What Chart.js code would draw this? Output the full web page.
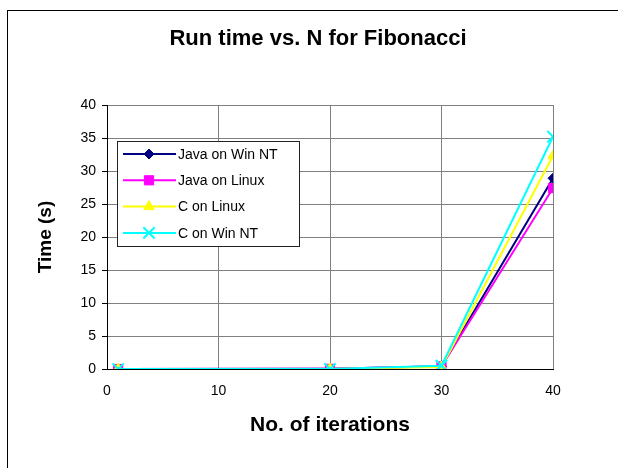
<!DOCTYPE html>
<html>
<head>
<meta charset="utf-8">
<script src="https://cdn.jsdelivr.net/npm/chart.js@4/dist/chart.umd.min.js"></script>
<style>
  html, body { margin: 0; padding: 0; background: #fff; overflow: hidden; }
  #frame {
    position: absolute; left: 7px; top: 10px; width: 640px; height: 480px;
    border-left: 1px solid #000; border-top: 1px solid #000; background: #fff;
  }
  #chartTitle {
    position: absolute; left: 0; top: 15px; width: 620px; text-align: center;
    font: bold 22px Arial, "Liberation Sans", sans-serif; line-height: 24px; color: #000;
  }
  #runChart { position: absolute; left: 0; top: 0; }
</style>
</head>
<body>
<div id="frame">
  <canvas id="runChart" width="620" height="470"></canvas>
  <div id="chartTitle">Run time vs. N for Fibonacci</div>
</div>
<script>
// data
const iterations = [1, 20, 30, 40];
const javaWinNT = [0, 0.02, 0.4, 28.9];
const javaLinux = [0, 0.02, 0.4, 27.4];
const cLinux = [0, 0.01, 0.3, 32.3];
const cWinNT = [0, 0.01, 0.5, 35.2];
const seriesNames = ['Java on Win NT', 'Java on Linux', 'C on Linux', 'C on Win NT'];
const xTicks = [0, 10, 20, 30, 40];
const yTicks = [0, 5, 10, 15, 20, 25, 30, 35, 40];

const FONT = 'Arial, "Liberation Sans", sans-serif';

function points(values) {
  return iterations.map((x, i) => ({ x: x, y: values[i] }));
}

function series(label, values, color, style, radius, order) {
  return {
    label: label,
    data: points(values),
    borderColor: color,
    backgroundColor: color,
    pointBackgroundColor: color,
    pointBorderColor: color,
    pointStyle: style,
    pointRadius: radius,
    pointBorderWidth: style === 'crossRot' ? 2 : 1,
    borderWidth: 2,
    tension: 0,
    order: order
  };
}

// legend drawn inside the plot, like the original
const boxLegend = {
  id: 'boxLegend',
  afterDraw(chart) {
    const ctx = chart.ctx;
    const left = 109, top = 130, w = 182, h = 105;
    ctx.save();
    ctx.fillStyle = '#fff';
    ctx.fillRect(left, top, w, h);
    ctx.strokeStyle = '#222';
    ctx.lineWidth = 1;
    ctx.strokeRect(left + 0.5, top + 0.5, w, h);
    chart.data.datasets.forEach((ds, i) => {
      const y = top + 13 + i * 26.3;
      ctx.strokeStyle = ds.borderColor;
      ctx.lineWidth = 2;
      ctx.beginPath();
      ctx.moveTo(115, y);
      ctx.lineTo(168, y);
      ctx.stroke();
      ctx.fillStyle = ds.pointBackgroundColor;
      ctx.strokeStyle = ds.pointBorderColor;
      ctx.lineWidth = ds.pointBorderWidth;
      Chart.helpers.drawPoint(ctx, { pointStyle: ds.pointStyle, radius: ds.pointRadius, borderWidth: ds.pointBorderWidth }, 141, y);
      ctx.fillStyle = '#000';
      ctx.font = '14px ' + FONT;
      ctx.textBaseline = 'middle';
      ctx.textAlign = 'left';
      ctx.fillText(ds.label, 170, y + 1);
    });
    ctx.restore();
  }
};

const chart = new Chart(document.getElementById('runChart').getContext('2d'), {
  type: 'line',
  data: {
    datasets: [
      series(seriesNames[0], javaWinNT, '#000080', 'rectRot', 5, 4),
      series(seriesNames[1], javaLinux, '#FF00FF', 'rect', 6.5, 3),
      series(seriesNames[2], cLinux, '#FFFF00', 'triangle', 6, 2),
      series(seriesNames[3], cWinNT, '#00FFFF', 'crossRot', 8, 1)
    ]
  },
  options: {
    responsive: false,
    animation: false,
    layout: { padding: { left: 0, top: 94, right: 75, bottom: 0 } },
    plugins: {
      legend: { display: false },
      title: { display: false },
      tooltip: { enabled: false }
    },
    scales: {
      x: {
        type: 'linear',
        min: 0,
        max: 40,
        afterBuildTicks: (scale) => { scale.ticks = xTicks.map(v => ({ value: v })); },
        afterFit: (scale) => { scale.height = 112; },
        grid: { color: '#808080', lineWidth: 1, drawTicks: false },
        border: { color: '#000', width: 1 },
        ticks: { color: '#000', padding: 14, font: { family: FONT, size: 14 } },
        title: {
          display: true,
          text: 'No. of iterations',
          color: '#000',
          font: { family: FONT, size: 21, weight: 'bold' },
          padding: { top: 0, bottom: 43 }
        }
      },
      y: {
        min: 0,
        max: 40,
        afterBuildTicks: (scale) => { scale.ticks = yTicks.map(v => ({ value: v })); },
        afterFit: (scale) => { scale.width = 99; },
        grid: { color: '#808080', lineWidth: 1, tickLength: 5, tickColor: '#000' },
        border: { color: '#000', width: 1 },
        ticks: { color: '#000', padding: 6, font: { family: FONT, size: 14 } },
        title: {
          display: true,
          text: 'Time (s)',
          color: '#000',
          font: { family: FONT, size: 19, weight: 'bold' },
          padding: { top: 26, bottom: 0 }
        }
      }
    }
  },
  plugins: [boxLegend]
});
</script>
</body>
</html>
